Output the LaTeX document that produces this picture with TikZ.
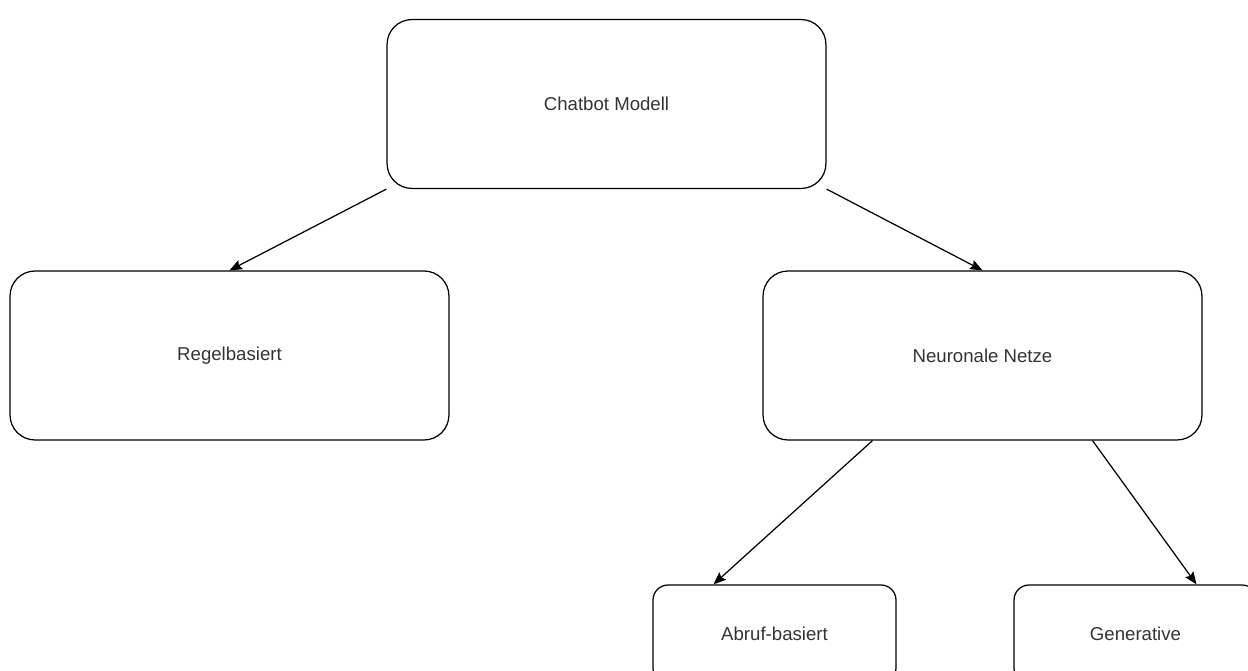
\documentclass[tikz,border=0pt]{standalone}
\usepackage{fontspec}
\setmainfont{Liberation Sans}
\usetikzlibrary{arrows.meta,calc}

\tikzset{
  bigbox/.style={draw, rectangle, rounded corners=0.5cm, minimum width=8.78cm, minimum height=3.38cm, line width=0.7pt, text=black!80, font=\fontsize{10.6}{12.7}\selectfont},
  smallbox/.style={bigbox, rounded corners=0.3cm, minimum width=4.86cm, minimum height=1.96cm},
  link/.style={-{Stealth[length=0.25cm, width=0.2cm, inset=0.04cm]}, line width=0.7pt}
}

\begin{document}
\begin{tikzpicture}[x=0.02cm, y=-0.02cm]
    \useasboundingbox (0,0) rectangle (1248,671);
    \clip (0,0) rectangle (1248,671);

    \node (chatbot) at (606.5,104) [bigbox] {Chatbot Modell};
    \node (regel) at (229.5,355.5) [bigbox] {Regelbasiert};
    \node (neuro) at (982.5,355.5) [bigbox] {Neuronale Netze};
    \node (abruf) at (774.5,634) [smallbox] {Abruf-basiert};
    \node (gen) at (1135.5,634) [smallbox] {Generative};

    \draw [link] (chatbot.south west) -- (regel.north);
    \draw [link] (chatbot.south east) -- (neuro.north);
    \draw [link] ($(neuro.south west)!0.25!(neuro.south east)$) -- ($(abruf.north west)!0.25!(abruf.north east)$);
    \draw [link] ($(neuro.south west)!0.75!(neuro.south east)$) -- ($(gen.north west)!0.75!(gen.north east)$);
\end{tikzpicture}
\end{document}
